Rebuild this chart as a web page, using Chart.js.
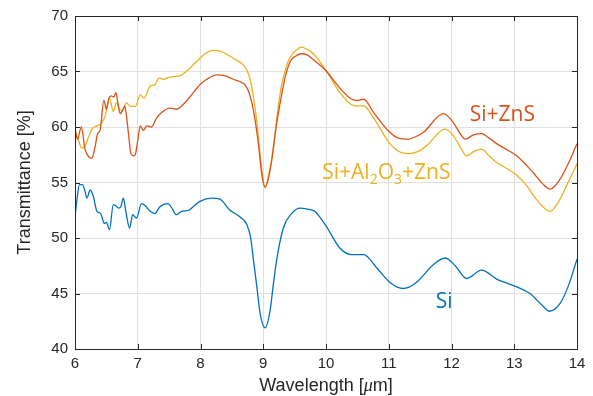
<!DOCTYPE html>
<html>
<head>
<meta charset="utf-8">
<script src="https://cdn.jsdelivr.net/npm/chart.js@4"></script>
<style>
  body { margin: 0; background: #fff; }
  #chart { display: block; }
</style>
</head>
<body>
<canvas id="chart" width="593" height="396"></canvas>
<script>
// Si
const siWl = [6.0, 6.03, 6.07, 6.12, 6.16, 6.19, 6.24, 6.29, 6.35, 6.41, 6.45, 6.47, 6.5, 6.55, 6.61, 6.65, 6.69, 6.73, 6.77, 6.81, 6.87, 6.92, 6.98, 7.06, 7.12, 7.2, 7.27, 7.35, 7.48, 7.55, 7.61, 7.7, 7.81, 7.9, 7.99, 8.18, 8.31, 8.47, 8.63, 8.74, 8.8, 8.84, 8.9, 8.95, 9.03, 9.11, 9.16, 9.21, 9.32, 9.45, 9.59, 9.7, 9.82, 10.01, 10.22, 10.41, 10.6, 10.81, 11.02, 11.23, 11.44, 11.71, 11.9, 12.06, 12.24, 12.48, 12.72, 13.04, 13.25, 13.45, 13.56, 13.73, 13.87, 14.0];
const siT = [51.9, 53.4, 54.8, 54.8, 54.2, 53.6, 54.3, 53.8, 52.4, 52.2, 51.5, 51.3, 51.4, 50.75, 53.0, 52.9, 52.7, 52.8, 53.6, 52.4, 50.9, 52.1, 51.8, 53.1, 52.9, 52.4, 52.2, 52.8, 53.1, 52.65, 52.1, 52.4, 52.5, 52.9, 53.3, 53.6, 53.5, 52.5, 51.9, 51.2, 50.0, 48.2, 45.5, 43.2, 41.9, 43.5, 45.8, 47.9, 50.9, 52.2, 52.7, 52.6, 52.4, 51.0, 49.1, 48.5, 48.5, 47.3, 46.0, 45.45, 46.0, 47.6, 48.2, 47.5, 46.35, 47.1, 46.3, 45.6, 45.0, 43.9, 43.4, 44.1, 45.8, 48.1];

// Si+ZnS
const znsWl = [6.0, 6.04, 6.1, 6.16, 6.22, 6.27, 6.32, 6.36, 6.4, 6.46, 6.5, 6.54, 6.58, 6.62, 6.65, 6.68, 6.72, 6.76, 6.79, 6.82, 6.86, 6.89, 6.93, 6.96, 7.0, 7.04, 7.09, 7.14, 7.22, 7.3, 7.38, 7.51, 7.62, 7.7, 7.8, 7.99, 8.1, 8.26, 8.4, 8.52, 8.62, 8.71, 8.78, 8.84, 8.92, 8.98, 9.03, 9.08, 9.13, 9.2, 9.27, 9.35, 9.43, 9.52, 9.61, 9.7, 9.8, 10.01, 10.22, 10.41, 10.5, 10.6, 10.76, 11.02, 11.15, 11.29, 11.42, 11.55, 11.87, 12.03, 12.15, 12.22, 12.35, 12.48, 12.6, 12.72, 12.9, 13.04, 13.3, 13.45, 13.57, 13.73, 13.87, 14.0];
const znsT = [59.8, 58.9, 60.0, 58.0, 57.3, 57.2, 58.2, 59.4, 59.7, 62.4, 61.6, 62.6, 62.8, 62.7, 63.1, 62.3, 61.2, 61.5, 61.9, 61.0, 59.0, 57.6, 57.4, 57.5, 58.8, 60.1, 59.7, 60.1, 60.0, 60.8, 61.3, 61.7, 61.6, 61.9, 62.5, 63.8, 64.3, 64.7, 64.6, 64.3, 64.1, 63.8, 63.0, 61.6, 58.6, 55.6, 54.6, 55.3, 56.8, 59.8, 62.2, 64.5, 65.9, 66.4, 66.6, 66.5, 66.05, 65.0, 63.5, 62.5, 62.4, 62.5, 61.3, 59.5, 59.0, 58.9, 59.1, 59.5, 61.2, 60.4, 59.3, 58.9, 59.3, 59.4, 59.0, 58.5, 57.9, 57.4, 55.9, 54.9, 54.4, 55.3, 56.8, 58.5];

// Si+Al2O3+ZnS
const alWl = [6.0, 6.05, 6.11, 6.16, 6.21, 6.27, 6.35, 6.43, 6.48, 6.55, 6.61, 6.66, 6.72, 6.77, 6.82, 6.87, 6.96, 7.04, 7.1, 7.2, 7.27, 7.34, 7.41, 7.51, 7.67, 7.83, 7.99, 8.1, 8.2, 8.3, 8.4, 8.52, 8.68, 8.74, 8.79, 8.85, 8.9, 8.96, 9.03, 9.08, 9.16, 9.22, 9.29, 9.36, 9.43, 9.52, 9.61, 9.7, 9.8, 10.01, 10.22, 10.41, 10.5, 10.6, 10.76, 11.02, 11.2, 11.34, 11.47, 11.6, 11.9, 12.03, 12.15, 12.24, 12.36, 12.48, 12.6, 12.72, 12.9, 13.04, 13.2, 13.35, 13.5, 13.57, 13.7, 13.85, 14.0];
const alT = [59.8, 58.9, 58.1, 58.3, 59.0, 59.8, 60.1, 60.4, 61.0, 62.6, 61.4, 62.2, 61.5, 61.6, 62.2, 61.9, 61.85, 62.9, 62.6, 63.7, 63.8, 64.4, 64.3, 64.5, 64.6, 65.3, 66.2, 66.7, 66.9, 66.85, 66.6, 66.2, 65.6, 65.1, 64.3, 62.5, 60.4, 57.0, 54.5, 55.5, 58.0, 61.0, 63.7, 65.3, 66.3, 66.9, 67.2, 67.0, 66.6, 65.0, 63.1, 62.0, 61.9, 61.9, 60.8, 58.5, 57.7, 57.6, 57.8, 58.3, 59.8, 59.2, 58.1, 57.4, 57.8, 58.0, 57.4, 56.8, 56.2, 55.65, 54.7, 53.5, 52.6, 52.4, 53.2, 54.9, 56.7];

const xTicks = [6, 7, 8, 9, 10, 11, 12, 13, 14];
const yTicks = [40, 45, 50, 55, 60, 65, 70];

const axisColor = '#262626';
const sansFamily = '"Liberation Sans", Arial, sans-serif';
const tickFont = { family: sansFamily, size: 15 };
const labelFont = '"Open Sans", "Noto Sans", sans-serif';

function toPoints(xs, ys) {
    return xs.map((x, i) => ({ x: x, y: ys[i] }));
}

function series(label, xs, ys, color) {
    return {
        label: label,
        data: toPoints(xs, ys),
        borderColor: color,
        backgroundColor: color,
        borderWidth: 1.3,
        pointRadius: 0,
        showLine: true,
        cubicInterpolationMode: 'monotone'
    };
}

// box frame + inward ticks like the original figure, curve labels and x title
const framePlugin = {
    id: 'frame',
    afterDatasetsDraw(chart) {
        const { ctx, chartArea: a, scales } = chart;
        ctx.save();
        ctx.strokeStyle = axisColor;
        ctx.lineWidth = 1;
        ctx.strokeRect(Math.round(a.left) + 0.5, Math.round(a.top) + 0.5,
            Math.round(a.right - a.left), Math.round(a.bottom - a.top));
        ctx.beginPath();
        xTicks.forEach(v => {
            const px = Math.round(scales.x.getPixelForValue(v)) + 0.5;
            ctx.moveTo(px, a.bottom); ctx.lineTo(px, a.bottom - 5);
            ctx.moveTo(px, a.top); ctx.lineTo(px, a.top + 5);
        });
        yTicks.forEach(v => {
            const py = Math.round(scales.y.getPixelForValue(v)) + 0.5;
            ctx.moveTo(a.left, py); ctx.lineTo(a.left + 5, py);
            ctx.moveTo(a.right, py); ctx.lineTo(a.right - 5, py);
        });
        ctx.stroke();

        const X = v => scales.x.getPixelForValue(v);
        const Y = v => scales.y.getPixelForValue(v);
        ctx.textAlign = 'left';
        ctx.textBaseline = 'alphabetic';

        // x title with italic mu
        const tparts = [['Wavelength [', '18px ' + sansFamily], ['μ', 'italic 18px "Liberation Serif", serif'], ['m]', '18px ' + sansFamily]];
        let total = 0;
        tparts.forEach(([t, f]) => { ctx.font = f; total += ctx.measureText(t).width; });
        let tx = (a.left + a.right) / 2 - total / 2;
        ctx.fillStyle = axisColor;
        tparts.forEach(([t, f]) => {
            ctx.font = f;
            ctx.fillText(t, tx, 391);
            tx += ctx.measureText(t).width;
        });

        ctx.font = '21px ' + labelFont;
        ctx.fillStyle = '#D95319';
        ctx.fillText('Si+ZnS', X(12.29), Y(60.55));

        ctx.fillStyle = '#0072BD';
        ctx.fillText('Si', X(11.75), Y(43.7));

        // Si+Al2O3+ZnS with subscripts
        ctx.fillStyle = '#EDB120';
        let x = X(9.94);
        const base = Y(55.3);
        const parts = [['Si+Al', false], ['2', true], ['O', false], ['3', true], ['+ZnS', false]];
        parts.forEach(([t, sub]) => {
            ctx.font = (sub ? '14px ' : '21px ') + labelFont;
            ctx.fillText(t, x, sub ? base + 5 : base);
            x += ctx.measureText(t).width;
        });
        ctx.restore();
    }
};

new Chart(document.getElementById('chart'), {
    type: 'scatter',
    data: {
        datasets: [
            series('Si', siWl, siT, '#0072BD'),
            series('Si+ZnS', znsWl, znsT, '#D95319'),
            series('Si+Al2O3+ZnS', alWl, alT, '#EDB120')
        ]
    },
    options: {
        responsive: false,
        animation: false,
        devicePixelRatio: 1,
        layout: { padding: { left: 0, top: 12, right: 16, bottom: 0 } },
        plugins: {
            legend: { display: false },
            tooltip: { enabled: false }
        },
        scales: {
            x: {
                type: 'linear',
                min: 6,
                max: 14,
                afterFit: s => { s.height = 47; },
                afterBuildTicks: s => { s.ticks = xTicks.map(v => ({ value: v })); },
                ticks: { color: axisColor, font: tickFont, padding: 6 },
                grid: { color: '#e0e0e0', drawTicks: false },
                border: { display: false },
                title: { display: false }
            },
            y: {
                min: 40,
                max: 70,
                afterFit: s => { s.width = 75; },
                afterBuildTicks: s => { s.ticks = yTicks.map(v => ({ value: v })); },
                ticks: { color: axisColor, font: tickFont, padding: 7 },
                grid: { color: '#e0e0e0', drawTicks: false },
                border: { display: false },
                title: {
                    display: true,
                    text: 'Transmittance [%]',
                    color: axisColor,
                    font: { family: sansFamily, size: 18 },
                    padding: { top: 14, bottom: 0 }
                }
            }
        }
    },
    plugins: [framePlugin]
});
</script>
</body>
</html>
